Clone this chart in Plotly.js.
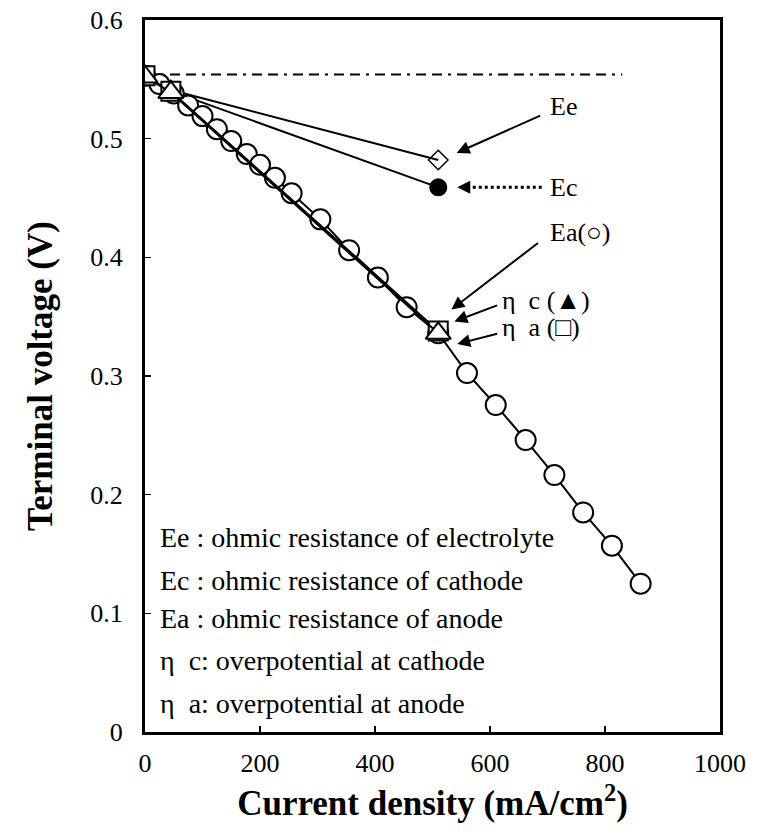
<!DOCTYPE html>
<html>
<head>
<meta charset="utf-8">
<script src="https://cdn.plot.ly/plotly-3.0.1.min.js"></script>
<style>html,body{margin:0;padding:0;background:#fff;}#chart{width:759px;height:839px;}</style>
</head>
<body>
<div id="chart"></div>
<script>
// Measured terminal voltage vs current density (open circles)
const currentDensity = [0, 25, 50, 75, 100, 125, 150, 177, 200, 226, 255, 305, 355, 405, 455, 510, 560, 610, 662, 712, 762, 812, 862];
const terminalVoltage = [0.553, 0.546, 0.538, 0.528, 0.519, 0.508, 0.498, 0.487, 0.478, 0.467, 0.454, 0.432, 0.406, 0.383, 0.358, 0.336, 0.3025, 0.2755, 0.246, 0.2165, 0.185, 0.157, 0.125];

// Loss-breakdown points (start, near-origin, 510 mA/cm2)
const breakdownX = [0, 45, 510];
const eeVoltage = [0.553, 0.541, 0.482];   // Ee: ohmic resistance of electrolyte (diamond)
const ecVoltage = [0.553, 0.540, 0.459];   // Ec: ohmic resistance of cathode (filled circle)
const etaCVoltage = [0.552, 0.539, 0.336]; // eta c (triangle)
const etaAVoltage = [0.553, 0.540, 0.338]; // eta a (square)

// Open-circuit reference line
const ocvX = [0, 830];
const ocvY = [0.554, 0.554];

const xTicks = [0, 200, 400, 600, 800, 1000];
const yTicks = [0, 0.1, 0.2, 0.3, 0.4, 0.5, 0.6];
const yTickText = ['0', '0.1', '0.2', '0.3', '0.4', '0.5', '0.6'];

const legendLines = [
  'Ee : ohmic resistance of electrolyte',
  'Ec : ohmic resistance of cathode',
  'Ea : ohmic resistance of anode',
  'η  c: overpotential at cathode',
  'η  a: overpotential at anode'
];
const legendY = [0.164, 0.128, 0.096, 0.060, 0.024];

const serif = 'Liberation Serif, Times New Roman, serif';

const traces = [
  {x: ocvX, y: ocvY, mode: 'lines', line: {color: '#000', width: 2, dash: '10px,6px,3px,6px,10px,6px'}, hoverinfo: 'skip'},
  {x: breakdownX, y: eeVoltage, mode: 'lines+markers', line: {color: '#000', width: 2},
   marker: {symbol: 'diamond-open', size: 15, color: '#000', line: {width: 1.5}}},
  {x: breakdownX, y: ecVoltage, mode: 'lines+markers', line: {color: '#000', width: 2},
   marker: {symbol: 'circle', size: 18, color: '#000'}},
  {x: currentDensity, y: terminalVoltage, mode: 'lines+markers', line: {color: '#000', width: 2},
   marker: {symbol: 'circle', size: 20, color: '#fff', line: {color: '#000', width: 2}}},
  {x: breakdownX, y: etaAVoltage, mode: 'lines+markers', line: {color: '#000', width: 2},
   marker: {symbol: 'square', size: 19, color: '#fff', line: {color: '#000', width: 2}}},
  {x: breakdownX, y: etaCVoltage, mode: 'lines+markers', line: {color: '#000', width: 2},
   marker: {symbol: 'triangle-up', size: 22, color: '#fff', line: {color: '#000', width: 2}}}
];

const annotations = [];
// arrows (head at x,y ; tail at ax,ay)
const arrowSpecs = [
  {x: 542, y: 0.488, ax: 690, ay: 0.520, dash: 'solid'},
  {x: 543, y: 0.459, ax: 690, ay: 0.459, dash: 'dot'},
  {x: 533, y: 0.356, ax: 686, ay: 0.413, dash: 'solid'},
  {x: 538, y: 0.346, ax: 615, ay: 0.360, dash: 'solid'},
  {x: 543, y: 0.327, ax: 615, ay: 0.336, dash: 'solid'}
];
const shapes = [];
arrowSpecs.forEach(a => {
  if (a.dash === 'solid') {
    annotations.push({
      x: a.x, y: a.y, ax: a.ax, ay: a.ay, axref: 'x', ayref: 'y', xref: 'x', yref: 'y',
      text: '', showarrow: true, arrowhead: 2, arrowsize: 1.3, arrowwidth: 2, arrowcolor: '#000'
    });
  } else {
    shapes.push({type: 'line', xref: 'x', yref: 'y', x0: a.ax, y0: a.ay, x1: a.x + 10, y1: a.y,
      line: {color: '#000', width: 3, dash: 'dot'}});
    annotations.push({
      x: a.x, y: a.y, ax: a.x + 18, ay: a.y, axref: 'x', ayref: 'y', xref: 'x', yref: 'y',
      text: '', showarrow: true, arrowhead: 2, arrowsize: 1.3, arrowwidth: 2, arrowcolor: '#000'
    });
  }
});
const labelSpecs = [
  {text: 'Ee', x: 700, y: 0.527},
  {text: 'Ec', x: 700, y: 0.459},
  {text: 'Ea(○)', x: 700, y: 0.421},
  {text: 'η  c (▲)', x: 618, y: 0.364},
  {text: 'η  a (□)', x: 618, y: 0.341}
];
labelSpecs.forEach(l => annotations.push({
  x: l.x, y: l.y, xref: 'x', yref: 'y', text: l.text, showarrow: false,
  xanchor: 'left', yanchor: 'middle', font: {family: serif, size: 26, color: '#000'}
}));
legendLines.forEach((t, i) => annotations.push({
  x: 22, y: legendY[i], xref: 'x', yref: 'y', text: t, showarrow: false,
  xanchor: 'left', yanchor: 'middle', font: {family: serif, size: 28, color: '#000'}
}));

const layout = {
  width: 759, height: 839,
  margin: {l: 145, r: 39, t: 20, b: 107},
  paper_bgcolor: '#fff', plot_bgcolor: '#fff',
  showlegend: false,
  font: {family: serif, color: '#000'},
  xaxis: {
    range: [0, 1000], tickvals: xTicks, ticks: 'inside', ticklen: 6, tickwidth: 1.5, tickcolor: '#000',
    showline: true, linewidth: 3, linecolor: '#000', mirror: true, showgrid: false, zeroline: false,
    tickfont: {family: serif, size: 26, color: '#000'}, ticklabelstandoff: 6,
    title: {text: '<b>Current density (mA/cm<sup>2</sup>)</b>', font: {family: serif, size: 35, color: '#000'}, standoff: 14}
  },
  yaxis: {
    range: [0, 0.6], tickvals: yTicks, ticktext: yTickText, ticks: 'inside', ticklen: 6, tickwidth: 1.5, tickcolor: '#000',
    showline: true, linewidth: 3, linecolor: '#000', mirror: true, showgrid: false, zeroline: false,
    tickfont: {family: serif, size: 26, color: '#000'}, ticklabelstandoff: 14,
    title: {text: '<b>Terminal voltage (V)</b>', font: {family: serif, size: 35, color: '#000'}, standoff: 28}
  },
  shapes: shapes,
  annotations: annotations
};

Plotly.newPlot('chart', traces, layout, {staticPlot: true, displayModeBar: false});
</script>
</body>
</html>
